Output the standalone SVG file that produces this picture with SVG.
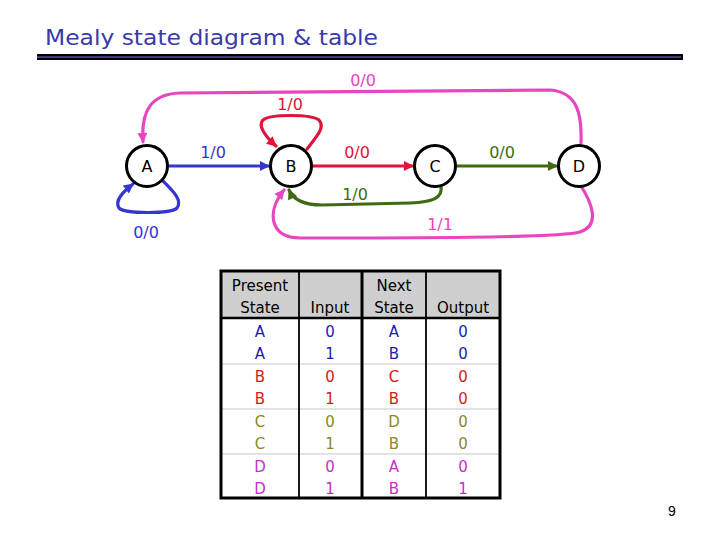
<svg xmlns="http://www.w3.org/2000/svg" width="720" height="540" viewBox="0 0 720 540">
<defs>
<style>
.t{font-family:"DejaVu Sans","Liberation Sans",sans-serif;}
.lbl{font-family:"DejaVu Sans","Liberation Sans",sans-serif;font-size:16px;text-anchor:middle;}
.node circle{fill:#fff;stroke:#000;stroke-width:3;}
.node text{font-family:"DejaVu Sans","Liberation Sans",sans-serif;font-size:16px;text-anchor:middle;fill:#000;}
.e{fill:none;stroke-width:3.2;stroke-linecap:round;stroke-linejoin:round;}
.blue{stroke:#3535d0;}
.red{stroke:#e0143c;}
.green{stroke:#3f6a14;}
.pink{stroke:#e845c0;}
.tc{font-family:"DejaVu Sans","Liberation Sans",sans-serif;font-size:15px;text-anchor:middle;}
.hd{fill:#000;}
.ra{fill:#1c1cb0;}
.rb{fill:#d41a1a;}
.rc{fill:#8a8a1e;}
.rd{fill:#c232c8;}
.sep{stroke:#c8c8c8;stroke-width:1.2;}
</style>
<marker id="mBlue" viewBox="0 0 10 10" refX="9" refY="5" markerWidth="11" markerHeight="10" markerUnits="userSpaceOnUse" orient="auto"><path d="M0,0 L10,5 L0,10 z" fill="#3535d0"/></marker>
<marker id="mRed" viewBox="0 0 10 10" refX="9" refY="5" markerWidth="11" markerHeight="10" markerUnits="userSpaceOnUse" orient="auto"><path d="M0,0 L10,5 L0,10 z" fill="#e0143c"/></marker>
<marker id="mGreen" viewBox="0 0 10 10" refX="9" refY="5" markerWidth="11" markerHeight="10" markerUnits="userSpaceOnUse" orient="auto"><path d="M0,0 L10,5 L0,10 z" fill="#3f6a14"/></marker>
<marker id="mPink" viewBox="0 0 10 10" refX="9" refY="5" markerWidth="11" markerHeight="10" markerUnits="userSpaceOnUse" orient="auto"><path d="M0,0 L10,5 L0,10 z" fill="#e845c0"/></marker>
</defs>
<rect width="720" height="540" fill="#fff"/>
<g id="title">
<text class="t" x="45" y="45" font-size="21" fill="#3a3aaa" textLength="333" lengthAdjust="spacingAndGlyphs">Mealy state diagram &amp; table</text>
<rect x="37" y="54" width="646" height="6" fill="#000"/>
<rect x="37" y="56.2" width="644" height="1.8" fill="#4a3f9c"/>
</g>
<g id="connectors">
<path class="e blue" d="M168,166 L269,166" marker-end="url(#mBlue)"/>
<path class="e red" d="M312,166 L413,166" marker-end="url(#mRed)"/>
<path class="e green" d="M456,166 L557,166" marker-end="url(#mGreen)"/>
<path class="e green" d="M441,186 C443,198 433,202 410,203 L322,205 C302,205 293,199 289,190" marker-end="url(#mGreen)"/>
<path class="e pink" d="M581,186 C590,200 602,225 580,232 C560,238 400,238 300,238 C270,238 266,212 284,190" marker-end="url(#mPink)"/>
<path class="e pink" d="M581,143 C582,115 578,92 550,90 L180,93 C150,94 141,112 143,142" marker-end="url(#mPink)"/>
<path class="e red" d="M307,149 C315,138 326,128 319,120 C311,114 270,114 263,120 C257,126 267,138 276,146" marker-end="url(#mRed)"/>
<path class="e blue" d="M162,180 C172,190 183,200 177,208 C171,214 125,214 119,208 C114,200 124,191 133,184" marker-end="url(#mBlue)"/>
<text class="lbl" x="363" y="86" fill="#e845c0">0/0</text>
<text class="lbl" x="290" y="110" fill="#e0143c">1/0</text>
<text class="lbl" x="213" y="158" fill="#3535d0">1/0</text>
<text class="lbl" x="357" y="158" fill="#e0143c">0/0</text>
<text class="lbl" x="502" y="158" fill="#3f6a14">0/0</text>
<text class="lbl" x="355" y="200" fill="#3f6a14">1/0</text>
<text class="lbl" x="440" y="230" fill="#e845c0">1/1</text>
<text class="lbl" x="146" y="238" fill="#3535d0">0/0</text>
</g>
<g id="A" class="node"><circle cx="147" cy="166" r="20.5"/><text x="147" y="172">A</text></g>
<g id="B" class="node"><circle cx="291" cy="166" r="20.5"/><text x="291" y="172">B</text></g>
<g id="C" class="node"><circle cx="435" cy="166" r="20.5"/><text x="435" y="172">C</text></g>
<g id="D" class="node"><circle cx="579" cy="166" r="20.5"/><text x="579" y="172">D</text></g>
<g id="table">
<rect x="221" y="271" width="279" height="47" fill="#cfcfcf"/>
<line class="sep" x1="221" y1="364" x2="500" y2="364"/>
<line class="sep" x1="221" y1="409" x2="500" y2="409"/>
<line class="sep" x1="221" y1="454" x2="500" y2="454"/>
<line x1="299" y1="271" x2="299" y2="498" stroke="#000" stroke-width="1.8"/>
<line x1="362" y1="271" x2="362" y2="498" stroke="#000" stroke-width="3"/>
<line x1="426" y1="271" x2="426" y2="498" stroke="#000" stroke-width="1.8"/>
<line x1="221" y1="318" x2="500" y2="318" stroke="#000" stroke-width="2.5"/>
<rect x="221" y="271" width="279" height="227" fill="none" stroke="#000" stroke-width="3"/>
<g class="tc hd">
<text x="260" y="291">Present</text><text x="260" y="313">State</text>
<text x="330" y="313">Input</text>
<text x="394" y="291">Next</text><text x="394" y="313">State</text>
<text x="463" y="313">Output</text>
</g>
<g class="tc ra"><text x="260" y="337">A</text><text x="330" y="337">0</text><text x="394" y="337">A</text><text x="463" y="337">0</text>
<text x="260" y="359">A</text><text x="330" y="359">1</text><text x="394" y="359">B</text><text x="463" y="359">0</text></g>
<g class="tc rb"><text x="260" y="382">B</text><text x="330" y="382">0</text><text x="394" y="382">C</text><text x="463" y="382">0</text>
<text x="260" y="404">B</text><text x="330" y="404">1</text><text x="394" y="404">B</text><text x="463" y="404">0</text></g>
<g class="tc rc"><text x="260" y="427">C</text><text x="330" y="427">0</text><text x="394" y="427">D</text><text x="463" y="427">0</text>
<text x="260" y="449">C</text><text x="330" y="449">1</text><text x="394" y="449">B</text><text x="463" y="449">0</text></g>
<g class="tc rd"><text x="260" y="472">D</text><text x="330" y="472">0</text><text x="394" y="472">A</text><text x="463" y="472">0</text>
<text x="260" y="494">D</text><text x="330" y="494">1</text><text x="394" y="494">B</text><text x="463" y="494">1</text></g>
</g>
<text x="672" y="516" font-family="Liberation Sans, sans-serif" font-size="14" text-anchor="middle" fill="#000">9</text>
</svg>
